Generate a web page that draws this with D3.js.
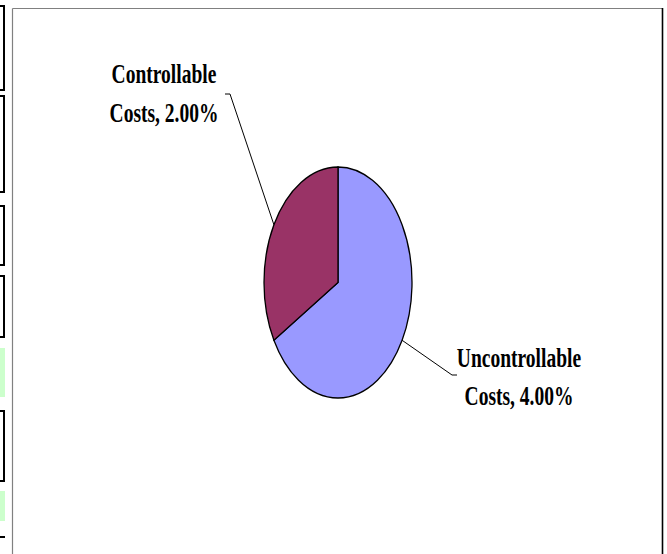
<!DOCTYPE html>
<html>
<head>
<meta charset="utf-8">
<script src="https://cdn.jsdelivr.net/npm/d3@7"></script>
<style>
  html, body { margin: 0; padding: 0; background: #ffffff; }
  svg { display: block; }
</style>
</head>
<body>
<svg id="chart" width="667" height="554"></svg>
<script>
// ---- data ----
const categories = ["Uncontrollable Costs", "Controllable Costs"];
const values = [4.00, 2.00];
const valueLabels = ["4.00%", "2.00%"];
const labelLines = [["Uncontrollable", "Costs, 4.00%"], ["Controllable", "Costs, 2.00%"]];
const colors = ["#9999FF", "#993366"];

// ---- layout ----
const W = 667, H = 554;
const cx = 338, cy = 282.5, rx = 74, ry = 115.5;
const svg = d3.select("#chart");

// left-side spreadsheet cell remnants
const brackets = [[6, 90], [96, 192], [206, 265], [276, 337], [411, 481]];
const greens = [[348, 397], [491, 521]];
const deco = svg.append("g");
greens.forEach(([a, b]) => deco.append("rect").attr("x", 0).attr("y", a).attr("width", 5).attr("height", b - a).attr("fill", "#ccffcc"));
brackets.forEach(([a, b]) => {
  deco.append("line").attr("x1", 4).attr("x2", 4).attr("y1", a).attr("y2", b).attr("stroke", "#000").attr("stroke-width", 2);
  deco.append("line").attr("x1", 0).attr("x2", 5).attr("y1", a).attr("y2", a).attr("stroke", "#000").attr("stroke-width", 2);
  deco.append("line").attr("x1", 0).attr("x2", 5).attr("y1", b).attr("y2", b).attr("stroke", "#000").attr("stroke-width", 2);
});
deco.append("line").attr("x1", 0).attr("x2", 5).attr("y1", 537).attr("y2", 537).attr("stroke", "#000").attr("stroke-width", 2);

// chart frame
svg.append("line").attr("x1", 12.5).attr("x2", 12.5).attr("y1", 8.5).attr("y2", H).attr("stroke", "#808080").attr("stroke-width", 1.2);
svg.append("line").attr("x1", 12.5).attr("x2", 662.5).attr("y1", 8.5).attr("y2", 8.5).attr("stroke", "#808080").attr("stroke-width", 1.2);
svg.append("line").attr("x1", 662.5).attr("x2", 662.5).attr("y1", 8).attr("y2", H).attr("stroke", "#000").attr("stroke-width", 1.6);

// pie
const pie = d3.pie().sort(null).value(d => d.v);
const data = pie(values.map((v, i) => ({ v, i })));
const arc = d3.arc().innerRadius(0).outerRadius(ry);

const g = svg.append("g").attr("transform", `translate(${cx},${cy}) scale(${rx / ry},1)`);
g.selectAll("path").data(data).join("path")
  .attr("d", arc)
  .attr("fill", d => colors[d.data.i])
  .attr("stroke", "#000")
  .attr("stroke-width", 1.3)
  .attr("vector-effect", "non-scaling-stroke");

// leader lines + labels
const labelCfg = [
  { knee: [452, 375], end: [457, 375], tx: 519, ty: [366.7, 405] },
  { knee: [230, 94], end: [225, 94], tx: 164, ty: [83, 121.7] }
];
data.forEach(d => {
  const i = d.data.i;
  const mid = (d.startAngle + d.endAngle) / 2;
  const px = cx + rx * Math.sin(mid), py = cy - ry * Math.cos(mid);
  const c = labelCfg[i];
  svg.append("polyline")
    .attr("points", [[px, py], c.knee, c.end].map(p => p.join(",")).join(" "))
    .attr("fill", "none").attr("stroke", "#000").attr("stroke-width", 1);
  labelLines[i].forEach((t, k) => {
    svg.append("text")
      .attr("transform", `translate(${c.tx},${c.ty[k]}) scale(0.71,1)`)
      .attr("text-anchor", "middle")
      .attr("font-family", "'Liberation Serif', 'Times New Roman', serif")
      .attr("font-weight", "bold")
      .attr("font-size", 27.5)
      .attr("fill", "#000")
      .text(t);
  });
});
</script>
</body>
</html>
